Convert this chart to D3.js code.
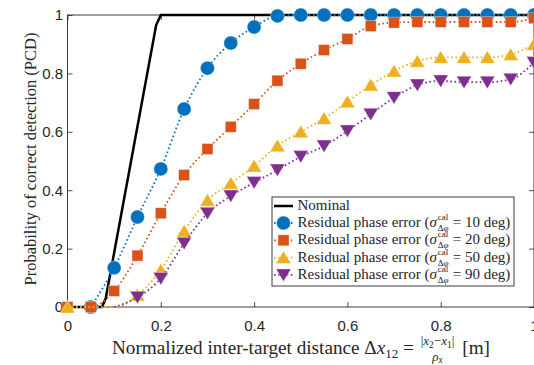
<!DOCTYPE html>
<html>
<head>
<meta charset="utf-8">
<script src="https://cdn.jsdelivr.net/npm/d3@7"></script>
<style>
body { margin: 0; background: #fff; }
svg { display: block; }
text { white-space: pre; }
</style>
</head>
<body>
<svg id="chart" width="534" height="365"></svg>
<script>
// normalized inter-target distance (x axis samples)
var distances = [0, 0.05, 0.1, 0.15, 0.2, 0.25, 0.3, 0.35, 0.4, 0.45, 0.5,
	0.55, 0.6, 0.65, 0.7, 0.75, 0.8, 0.85, 0.9, 0.95, 1];

// PCD per residual phase error, null = not plotted
var pcd10 = [null, 0, 0.134, 0.308, 0.473, 0.678, 0.818, 0.904, 0.959, 0.997, 1,
	1, 1, 1, 1, 1, 1, 1, 1, 1, 1];
var pcd20 = [0, 0, 0.055, 0.176, 0.321, 0.452, 0.541, 0.617, 0.695, 0.775, 0.833,
	0.880, 0.918, 0.962, 0.974, 0.976, 0.976, 0.976, 0.976, 0.976, 0.989];
var pcd50 = [0, 0, 0, 0.041, 0.127, 0.260, 0.366, 0.424, 0.483, 0.552, 0.600,
	0.646, 0.703, 0.760, 0.808, 0.842, 0.855, 0.855, 0.855, 0.865, 0.900];
var pcd90 = [null, null, 0, 0.033, 0.098, 0.218, 0.321, 0.380, 0.426, 0.469, 0.515,
	0.551, 0.603, 0.660, 0.717, 0.760, 0.774, 0.770, 0.770, 0.780, 0.837];

// points where the marker is not drawn (line only)
var hidden50 = [0.05, 0.1];
var hidden90 = [0.1];

// nominal curve
var nominalX = [0, 0.074, 0.082, 0.19, 0.2, 1];
var nominalY = [0, 0, 0.03, 0.965, 1, 1];

var sigmas = [10, 20, 50, 90];
var xTicks = [0, 0.2, 0.4, 0.6, 0.8, 1];
var yTicks = [0, 0.2, 0.4, 0.6, 0.8, 1];

var series = [
	{ deg: sigmas[0], vals: pcd10, hide: [], color: "#0072BD", shape: "circle" },
	{ deg: sigmas[1], vals: pcd20, hide: [], color: "#D95319", shape: "square" },
	{ deg: sigmas[2], vals: pcd50, hide: hidden50, color: "#EDB120", shape: "up" },
	{ deg: sigmas[3], vals: pcd90, hide: hidden90, color: "#7E2F8E", shape: "down" }
];

var SERIF = '"Liberation Serif", "DejaVu Serif", serif';
var SANS = '"Liberation Sans", Arial, sans-serif';

var svg = d3.select("#chart");
var x = d3.scaleLinear().domain([0, 1]).range([67.5, 534]);
var y = d3.scaleLinear().domain([0, 1]).range([307, 15]);

// marker drawing
function marker(g, shape, cx, cy, color) {
	var m;
	if (shape === "circle") {
		m = g.append("circle").attr("cx", cx).attr("cy", cy).attr("r", 7);
	} else if (shape === "square") {
		m = g.append("rect").attr("x", cx - 5.5).attr("y", cy - 5.5)
			.attr("width", 11).attr("height", 11);
	} else if (shape === "up") {
		m = g.append("path").attr("d", "M" + cx + "," + (cy - 6.5) + "L" + (cx + 7.5) + "," + (cy + 6)
			+ "L" + (cx - 7.5) + "," + (cy + 6) + "Z");
	} else {
		m = g.append("path").attr("d", "M" + cx + "," + (cy + 6.5) + "L" + (cx + 7.5) + "," + (cy - 6)
			+ "L" + (cx - 7.5) + "," + (cy - 6) + "Z");
	}
	m.attr("fill", color).attr("stroke", "#fff").attr("stroke-opacity", 0.45).attr("stroke-width", 0.8);
}

// axes with inward ticks
var gx = svg.append("g").attr("transform", "translate(0,307)")
	.call(d3.axisBottom(x).tickValues(xTicks).tickSize(-5).tickPadding(13).tickFormat(d3.format("~g")));
var gxt = svg.append("g").attr("transform", "translate(0,15)")
	.call(d3.axisTop(x).tickValues(xTicks).tickSize(-5).tickFormat(""));
var gy = svg.append("g").attr("transform", "translate(67.5,0)")
	.call(d3.axisLeft(y).tickValues(yTicks).tickSize(-5).tickPadding(4.5).tickFormat(d3.format("~g")));
var gyr = svg.append("g").attr("transform", "translate(534,0)")
	.call(d3.axisRight(y).tickValues(yTicks).tickSize(-5).tickFormat(""));
[gx, gxt, gy, gyr].forEach(function (g) {
	g.select(".domain").remove();
	g.selectAll(".tick line").attr("stroke", "#262626").attr("stroke-width", 0.8);
	g.selectAll(".tick text").attr("fill", "#262626").style("font-family", SANS).style("font-size", "15px");
});

svg.append("rect").attr("x", 67.5).attr("y", 15).attr("width", 466.5).attr("height", 292)
	.attr("fill", "none").attr("stroke", "#262626").attr("stroke-width", 0.9);

// nominal
var nominal = nominalX.map(function (v, i) { return [v, nominalY[i]]; });
svg.append("path").datum(nominal)
	.attr("d", d3.line().x(function (d) { return x(d[0]); }).y(function (d) { return y(d[1]); }))
	.attr("fill", "none").attr("stroke", "#000").attr("stroke-width", 2.5).attr("stroke-linejoin", "round");

// residual phase error curves
var dotted = d3.line().curve(d3.curveMonotoneX)
	.x(function (d) { return x(d[0]); }).y(function (d) { return y(d[1]); });

series.forEach(function (s) {
	var pts = [];
	distances.forEach(function (dv, i) {
		if (s.vals[i] !== null) pts.push([dv, s.vals[i]]);
	});
	var g = svg.append("g");
	g.append("path").datum(pts).attr("d", dotted)
		.attr("fill", "none").attr("stroke", s.color).attr("stroke-width", 1.8)
		.attr("stroke-dasharray", "1.6,2.6");
	pts.forEach(function (p) {
		if (s.hide.indexOf(p[0]) === -1) marker(g, s.shape, x(p[0]), y(p[1]), s.color);
	});
});

// text helper: segments = [[text, italic, size, dy]]
function place(g, px, py, segs, size, anchor) {
	var t = g.append("text").attr("x", px).attr("y", py)
		.style("font-family", SERIF).style("font-size", size + "px").attr("fill", "#262626")
		.attr("text-anchor", anchor || "start");
	segs.forEach(function (s) {
		var ts = t.append("tspan").text(s[0]);
		if (s[1]) ts.style("font-style", "italic");
		if (s[2]) ts.style("font-size", s[2] + "px");
		if (s[3]) ts.attr("dy", s[3]);
	});
	return t;
}

// legend
var lg = svg.append("g");
lg.append("rect").attr("x", 272).attr("y", 197).attr("width", 242).attr("height", 89)
	.attr("fill", "#fff").attr("stroke", "#262626").attr("stroke-width", 0.9);
lg.append("line").attr("x1", 274).attr("x2", 293).attr("y1", 206).attr("y2", 206)
	.attr("stroke", "#000").attr("stroke-width", 2.5);
place(lg, 297.5, 209.8, [["Nominal"]], 15);

series.forEach(function (s, i) {
	var cy = 223 + i * 17.3, base = cy + 4, tx = 297.5;
	lg.append("line").attr("x1", 274).attr("x2", 293).attr("y1", cy).attr("y2", cy)
		.attr("stroke", s.color).attr("stroke-width", 1.8).attr("stroke-dasharray", "1.6,2.6");
	marker(lg, s.shape, 283.5, cy, s.color);
	var t1 = place(lg, tx, base, [["Residual phase error ("], ["σ", 1]], 15);
	var w = t1.node().getComputedTextLength();
	var sup = place(lg, tx + w + 0.8, base - 7, [["cal"]], 9);
	var sub = place(lg, tx + w + 0.8, base + 4, [["Δ"], ["φ", 1]], 9);
	var m = Math.max(sup.node().getComputedTextLength(), sub.node().getComputedTextLength());
	place(lg, tx + w + m + 1.2, base, [[" = " + s.deg + " deg)"]], 15);
});

// y label
place(svg, 0, 0, [["Probability of correct detection (PCD)"]], 16.5, "middle")
	.attr("transform", "translate(36,159) rotate(-90)");

// x label with fraction
var xl = svg.append("g");
var a = place(xl, 0, 354, [["Normalized inter-target distance Δ"], ["x", 1], ["12", 0, 13, 4], [" = ", 0, 19.2, -4]], 19.2);
var num = place(xl, 0, 345, [["|"], ["x", 1], ["2", 0, 9.5, 2.5], ["−", 0, 13, -2.5], ["x", 1], ["1", 0, 9.5, 2.5], ["|", 0, 13, -2.5]], 13, "middle");
var den = place(xl, 0, 360.5, [["ρ", 1], ["x", 1, 9.5, 2.5]], 13, "middle");
var c = place(xl, 0, 354, [["[m]"]], 19.2);
var wa = a.node().getComputedTextLength();
var wf = Math.max(num.node().getComputedTextLength(), den.node().getComputedTextLength());
var wc = c.node().getComputedTextLength();
var gap = 8;
var start = 301 - (wa + 2 + wf + gap + wc) / 2;
a.attr("x", start);
num.attr("x", start + wa + 2 + wf / 2);
den.attr("x", start + wa + 2 + wf / 2);
c.attr("x", start + wa + 2 + wf + gap);
</script>
</body>
</html>
